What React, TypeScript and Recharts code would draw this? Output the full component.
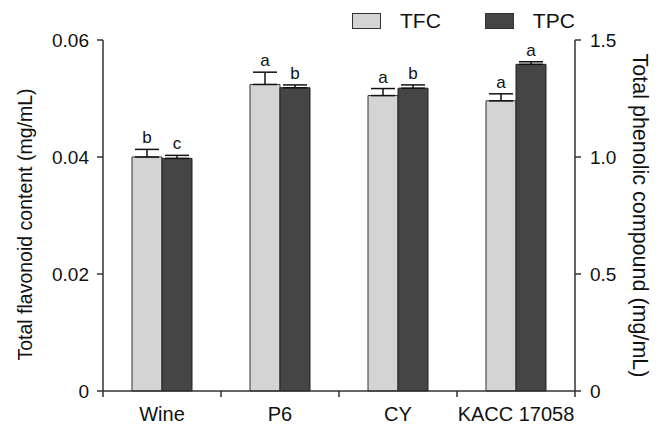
import React from "react";
import { BarChart, Bar, XAxis, YAxis, ErrorBar, LabelList, Legend } from "recharts";

const categories = ["Wine", "P6", "CY", "KACC 17058"];
const tfcValues = [0.04, 0.0524, 0.0505, 0.0496];
const tfcErrors = [0.0013, 0.0021, 0.0012, 0.0012];
const tfcLetters = ["b", "a", "a", "a"];
const tpcValues = [0.994, 1.296, 1.294, 1.396];
const tpcErrors = [0.013, 0.012, 0.014, 0.011];
const tpcLetters = ["c", "b", "b", "a"];
const leftTicks = [0, 0.02, 0.04, 0.06];
const rightTicks = [0, 0.5, 1.0, 1.5];
const seriesNames = ["TFC", "TPC"];

const data = categories.map((name, i) => ({
  name,
  tfc: tfcValues[i],
  tfcErr: [0, tfcErrors[i]],
  tfcLetter: tfcLetters[i],
  tpc: tpcValues[i],
  tpcErr: [0, tpcErrors[i]],
  tpcLetter: tpcLetters[i],
}));

const W = 662;
const H = 424;
const LEFT_W = 103;
const RIGHT_W = 87;
const BAND = (W - LEFT_W - RIGHT_W) / categories.length;
const FONT = '"Liberation Sans", Arial, Helvetica, sans-serif';
const AXIS = "#333";
const TFC_FILL = "#d4d4d4";
const TPC_FILL = "#454545";

const makeLetter = (values: number[], errors: number[]) => (props: any) => {
  const { x, y, width, height, value, index } = props;
  const errPx = (errors[index] * height) / values[index];
  return (
    <text
      x={x + width / 2}
      y={y - errPx - 6}
      textAnchor="middle"
      fontSize={17}
      fontFamily={FONT}
      fill="#111"
    >
      {value}
    </text>
  );
};

const XTick = (props: any) => {
  const { x, y, payload, index } = props;
  const axisY = y - 6 - 2;
  const left = x - BAND / 2;
  return (
    <g>
      <line x1={left} x2={left} y1={axisY} y2={axisY + 6} stroke={AXIS} strokeWidth={1.5} />
      {index === categories.length - 1 && (
        <line x1={x + BAND / 2} x2={x + BAND / 2} y1={axisY} y2={axisY + 6} stroke={AXIS} strokeWidth={1.5} />
      )}
      <text x={x} y={axisY + 30} textAnchor="middle" fontSize={20} fontFamily={FONT} fill="#111">
        {payload.value}
      </text>
    </g>
  );
};

const renderLegend = () => {
  const fills = [TFC_FILL, TPC_FILL];
  return (
    <div style={{ display: "flex", fontFamily: FONT, fontSize: 21, color: "#111", lineHeight: "20px" }}>
      {seriesNames.map((n, i) => (
        <div key={n} style={{ display: "flex", alignItems: "center", marginRight: 44 }}>
          <span
            style={{
              display: "inline-block",
              width: 27,
              height: 14,
              background: fills[i],
              border: "1px solid #333",
              marginRight: 19,
            }}
          />
          <span>{n}</span>
        </div>
      ))}
    </div>
  );
};

export default function App() {
  return (
    <div style={{ position: "absolute", left: 0, top: 0, width: W, height: H, background: "#fff", fontFamily: FONT }}>
      <BarChart
        width={W}
        height={H}
        data={data}
        margin={{ top: 40, right: 0, bottom: 0, left: 0 }}
        barGap={0}
      >
        <Legend
          layout="horizontal"
          verticalAlign="middle"
          align="center"
          content={renderLegend}
          wrapperStyle={{ top: 11, left: 352, width: 280, height: 20 }}
        />
        <XAxis
          dataKey="name"
          height={33}
          stroke={AXIS}
          strokeWidth={1.5}
          tickLine={false}
          tick={<XTick />}
          tickSize={6}
          tickMargin={2}
          interval={0}
        />
        <YAxis
          yAxisId="left"
          orientation="left"
          width={LEFT_W}
          domain={[0, 0.06]}
          ticks={leftTicks}
          tickFormatter={(v: number) => (v === 0 ? "0" : v.toFixed(2))}
          stroke={AXIS}
          strokeWidth={1.5}
          tickSize={6}
          tickMargin={8}
          tick={{ fontSize: 19, fill: "#111", fontFamily: FONT }}
          label={{
            content: (p: any) => {
              const vb = p.viewBox;
              const cx = vb.x + 25;
              const cy = vb.y + vb.height / 2 + 9;
              return (
                <text
                  x={cx}
                  y={cy}
                  transform={`rotate(-90, ${cx}, ${cy})`}
                  textAnchor="middle"
                  dominantBaseline="central"
                  fontSize={19.5}
                  fontFamily={FONT}
                  fill="#111"
                >
                  Total flavonoid content (mg/mL)
                </text>
              );
            },
          }}
        />
        <YAxis
          yAxisId="right"
          orientation="right"
          width={RIGHT_W}
          domain={[0, 1.5]}
          ticks={rightTicks}
          tickFormatter={(v: number) => (v === 0 ? "0" : v.toFixed(1))}
          stroke={AXIS}
          strokeWidth={1.5}
          tickSize={6}
          tickMargin={9}
          tick={{ fontSize: 19, fill: "#111", fontFamily: FONT }}
          label={{
            content: (p: any) => {
              const vb = p.viewBox;
              const cx = vb.x + 65;
              const cy = vb.y + vb.height / 2;
              return (
                <text
                  x={cx}
                  y={cy}
                  transform={`rotate(90, ${cx}, ${cy})`}
                  textAnchor="middle"
                  dominantBaseline="central"
                  fontSize={21.5}
                  fontFamily={FONT}
                  fill="#111"
                >
                  Total phenolic compound (mg/mL)
                </text>
              );
            },
          }}
        />
        <Bar
          yAxisId="left"
          dataKey="tfc"
          name={seriesNames[0]}
          barSize={30}
          fill={TFC_FILL}
          stroke="#333"
          strokeWidth={1}
          isAnimationActive={false}
        >
          <ErrorBar dataKey="tfcErr" direction="y" width={12} stroke="#111" strokeWidth={1.5} />
          <LabelList dataKey="tfcLetter" content={makeLetter(tfcValues, tfcErrors)} />
        </Bar>
        <Bar
          yAxisId="right"
          dataKey="tpc"
          name={seriesNames[1]}
          barSize={30}
          fill={TPC_FILL}
          stroke="#222"
          strokeWidth={1}
          isAnimationActive={false}
        >
          <ErrorBar dataKey="tpcErr" direction="y" width={12} stroke="#111" strokeWidth={1.5} />
          <LabelList dataKey="tpcLetter" content={makeLetter(tpcValues, tpcErrors)} />
        </Bar>
      </BarChart>
    </div>
  );
}
